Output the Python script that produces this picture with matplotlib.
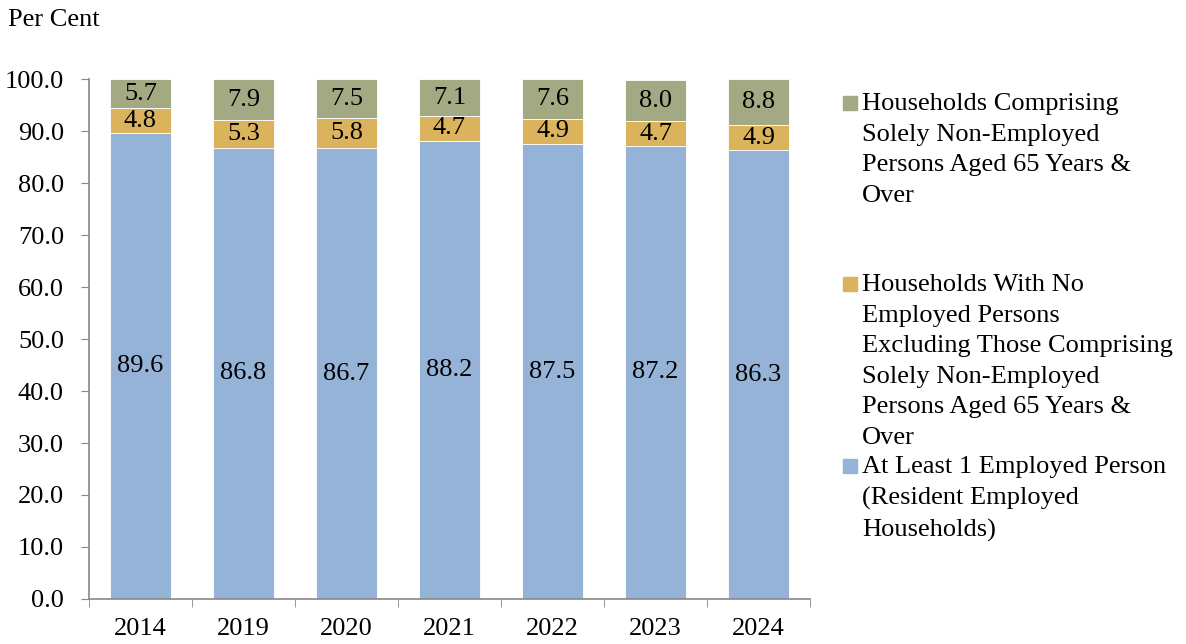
import matplotlib.pyplot as plt
import numpy as np
from matplotlib.patches import Rectangle

plt.rcParams['font.family'] = ['Liberation Serif', 'DejaVu Serif']

years = ['2014', '2019', '2020', '2021', '2022', '2023', '2024']
employed = [89.6, 86.8, 86.7, 88.2, 87.5, 87.2, 86.3]
no_employed = [4.8, 5.3, 5.8, 4.7, 4.9, 4.7, 4.9]
elderly_only = [5.7, 7.9, 7.5, 7.1, 7.6, 8.0, 8.8]

labels = [
    "Households Comprising\nSolely Non-Employed\nPersons Aged 65 Years &\nOver",
    "Households With No\nEmployed Persons\nExcluding Those Comprising\nSolely Non-Employed\nPersons Aged 65 Years &\nOver",
    "At Least 1 Employed Person\n(Resident Employed\nHouseholds)",
]
colors = ['#A3AA83', '#DBB35C', '#95B3D7']

fig = plt.figure(figsize=(11.86, 6.44), dpi=100)
ax = fig.add_axes([0.075, 0.070, 0.608, 0.807])

x = np.arange(len(years))
w = 0.59
fs = 19

b1 = ax.bar(x, employed, w, color=colors[2], edgecolor='white', linewidth=0.6)
bottom2 = np.array(employed)
b2 = ax.bar(x, no_employed, w, bottom=bottom2, color=colors[1], edgecolor='white', linewidth=0.6)
bottom3 = bottom2 + np.array(no_employed)
b3 = ax.bar(x, elderly_only, w, bottom=bottom3, color=colors[0], edgecolor='white', linewidth=0.6)

for bars in (b1, b2, b3):
    ax.bar_label(bars, labels=[f"{b.get_height():.1f}" for b in bars],
                 label_type='center', fontsize=fs)

ax.set_xlim(-0.5, len(years) - 0.5)
ax.set_ylim(0, 100)
ax.set_yticks(np.arange(0, 101, 10))
ax.set_yticklabels([f"{v:.1f}" for v in np.arange(0, 101, 10)], fontsize=fs)
ax.set_xticks(x)
ax.set_xticklabels(years, fontsize=fs)
ax.set_xticks(np.arange(-0.5, len(years), 1), minor=True)
ax.tick_params(axis='x', which='major', length=0, pad=14)
ax.tick_params(axis='x', which='minor', length=6, color='#888888', direction='out')
ax.tick_params(axis='y', length=6, color='#888888', direction='out', pad=12)

for s in ['top', 'right']:
    ax.spines[s].set_visible(False)
for s in ['left', 'bottom']:
    ax.spines[s].set_color('#888888')
    ax.spines[s].set_linewidth(1.2)

fig.text(8 / 1186, 1 - 20 / 644, "Per Cent", fontsize=fs, va='center', ha='left')

# legend, placed by hand to keep the uneven gaps
leg_y = [103, 284, 466]
for lab, col, yp in zip(labels, colors, leg_y):
    fig.patches.append(Rectangle((843 / 1186, 1 - (yp + 6.5) / 644), 14 / 1186, 14 / 644,
                                 transform=fig.transFigure, color=col))
    fig.text(862 / 1186, 1 - (yp - 10) / 644, lab, fontsize=fs, va='top', ha='left',
             linespacing=1.5)

fig.savefig("out.png", dpi=100)
